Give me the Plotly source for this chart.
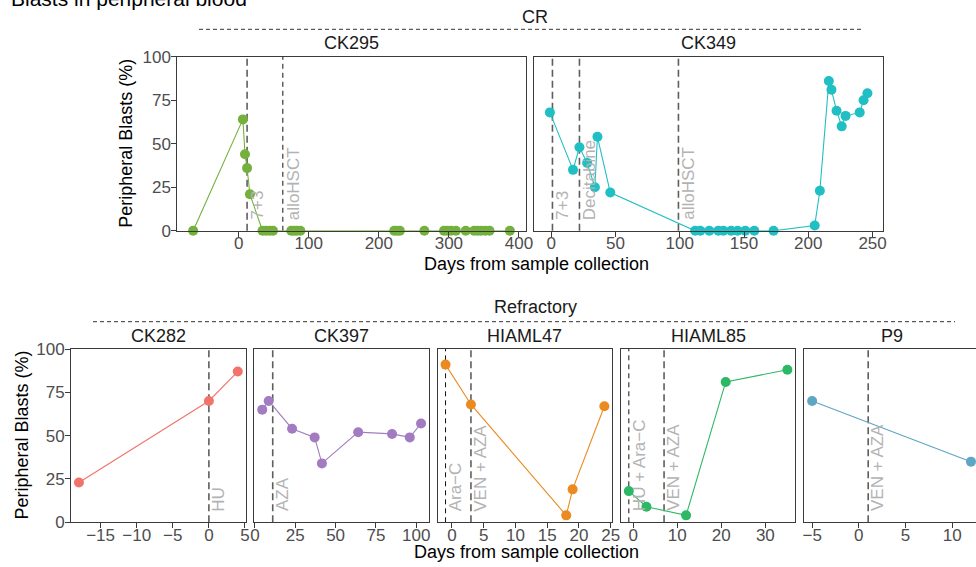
import plotly.graph_objects as go

W, H = 976, 567

# ---------------- data ----------------
ck295_day = [-65, 6, 9, 12, 16, 34, 39, 44, 49, 75, 79, 83, 88, 222, 226, 230, 265,
             293, 298, 303, 310, 324, 336, 341, 346, 352, 358, 387]
ck295_blasts = [0, 64, 44, 36, 21, 0, 0, 0, 0, 0, 0, 0, 0, 0, 0, 0, 0,
                0, 0, 0, 0, 0, 0, 0, 0, 0, 0, 0]
ck295_event_day = [12, 63]
ck295_event_lab = ["7+3", "alloHSCT"]

ck349_day = [-1, 17, 22, 28, 34, 36, 46, 112, 116, 123, 130, 134, 140, 145, 151, 158, 173,
             205, 209, 216, 218, 222, 226, 229, 240, 243, 246]
ck349_blasts = [68, 35, 48, 39, 25, 54, 22, 0, 0, 0, 0, 0, 0, 0, 0, 0, 0,
                3, 23, 86, 81, 69, 60, 66, 68, 75, 79]
ck349_event_day = [1, 22, 99]
ck349_event_lab = ["7+3", "Decitabine", "alloHSCT"]

ck282_day = [-18, 0, 4]
ck282_blasts = [23, 70, 87]
ck282_event_day = [0]
ck282_event_lab = ["HU"]

ck397_day = [4.5, 8.5, 23, 37, 41.5, 64, 85, 96, 103]
ck397_blasts = [65, 70, 54, 49, 34, 52, 51, 49, 57]
ck397_event_day = [11]
ck397_event_lab = ["AZA"]

hiaml47_day = [-1, 3, 18, 19, 24]
hiaml47_blasts = [91, 68, 4, 19, 67]
hiaml47_event_day = [-1, 3]
hiaml47_event_lab = ["Ara\u2212C", "VEN + AZA"]

hiaml85_day = [-1, 3, 12, 21, 35]
hiaml85_blasts = [18, 9, 4, 81, 88]
hiaml85_event_day = [-1, 7]
hiaml85_event_lab = ["HU + Ara\u2212C", "VEN + AZA"]

p9_day = [-5, 12]
p9_blasts = [70, 35]
p9_event_day = [1]
p9_event_lab = ["VEN + AZA"]

y_ticks = [0, 25, 50, 75, 100]
ck295_ticks = [0, 100, 200, 300, 400]
ck349_ticks = [0, 50, 100, 150, 200, 250]
ck282_ticks = [-15, -10, -5, 0, 5]
ck397_ticks = [0, 25, 50, 75, 100]
hiaml47_ticks = [0, 5, 10, 15, 20, 25]
hiaml85_ticks = [0, 10, 20, 30]
p9_ticks = [-5, 0, 5, 10]

# ---------------- layout / style ----------------
panels = [
    dict(name="CK295", d=ck295_day, b=ck295_blasts, ev=ck295_event_day, lab=ck295_event_lab,
         ticks=ck295_ticks, color="#74B03C", px=(177.3, 525.7), row=0),
    dict(name="CK349", d=ck349_day, b=ck349_blasts, ev=ck349_event_day, lab=ck349_event_lab,
         ticks=ck349_ticks, color="#1FBFC3", px=(534.0, 883.3), row=0),
    dict(name="CK282", d=ck282_day, b=ck282_blasts, ev=ck282_event_day, lab=ck282_event_lab,
         ticks=ck282_ticks, color="#F2736B", px=(71.0, 245.7), row=1),
    dict(name="CK397", d=ck397_day, b=ck397_blasts, ev=ck397_event_day, lab=ck397_event_lab,
         ticks=ck397_ticks, color="#A27BC0", px=(254.3, 429.0), row=1),
    dict(name="HIAML47", d=hiaml47_day, b=hiaml47_blasts, ev=hiaml47_event_day, lab=hiaml47_event_lab,
         ticks=hiaml47_ticks, color="#EC8A1F", px=(437.6, 612.3), row=1),
    dict(name="HIAML85", d=hiaml85_day, b=hiaml85_blasts, ev=hiaml85_event_day, lab=hiaml85_event_lab,
         ticks=hiaml85_ticks, color="#2DB866", px=(620.9, 795.3), row=1),
    dict(name="P9", d=p9_day, b=p9_blasts, ev=p9_event_day, lab=p9_event_lab,
         ticks=p9_ticks, color="#5FA5C4", px=(804.2, 978.9), row=1),
]
thin_events = {("CK295", 1), ("HIAML47", 0), ("HIAML85", 0)}

rows_px = [(56.7, 230.8), (349.0, 522.3)]

FONT = "Liberation Sans, Arial, sans-serif"
fig = go.Figure()
layout = dict(
    width=W, height=H, margin=dict(l=0, r=0, t=0, b=0, pad=0, autoexpand=False),
    paper_bgcolor="white", plot_bgcolor="white", showlegend=False,
    font=dict(family=FONT, size=17, color="#000000"),
)
shapes = []
annotations = []

first_in_row = {0: "CK295", 1: "CK282"}

for i, p in enumerate(panels):
    k = i + 1
    xa = "xaxis" if k == 1 else f"xaxis{k}"
    ya = "yaxis" if k == 1 else f"yaxis{k}"
    xr = "x" if k == 1 else f"x{k}"
    yr = "y" if k == 1 else f"y{k}"

    lo, hi = min(p["d"]), max(p["d"])
    span = hi - lo
    rlo, rhi = lo - 0.05 * span, hi + 0.05 * span
    x0, x1 = p["px"]
    full_x1 = x1
    if x1 > W:  # panel runs past the page edge: clip it
        frac = (W - x0) / (x1 - x0)
        rhi = rlo + (rhi - rlo) * frac
        x1 = W
    top, bot = rows_px[p["row"]]

    layout[xa] = dict(
        domain=[x0 / W, x1 / W], anchor=yr, range=[rlo, rhi], automargin=False,
        tickvals=p["ticks"], showgrid=False, zeroline=False,
        showline=True, mirror=True, linecolor="#3a3a3a", linewidth=1,
        ticks="outside", ticklen=5, tickcolor="#3a3a3a", ticklabelstandoff=-8,
        tickfont=dict(size=17, color="#4d4d4d", family=FONT),
    )
    is_first = p["name"] == first_in_row[p["row"]]
    layout[ya] = dict(
        domain=[1 - bot / H, 1 - top / H], anchor=xr, range=[0, 100], automargin=False,
        tickvals=y_ticks, showgrid=False, zeroline=False,
        showline=True, mirror=(full_x1 <= W), linecolor="#3a3a3a", linewidth=1,
        ticks="outside" if is_first else "", ticklen=5, tickcolor="#3a3a3a",
        ticklabelstandoff=-3, showticklabels=is_first,
        tickfont=dict(size=17, color="#4d4d4d", family=FONT),
    )

    # event lines and labels
    for j, (ev, lab) in enumerate(zip(p["ev"], p["lab"])):
        thin = (p["name"], j) in thin_events
        shapes.append(dict(
            type="line", xref=xr, yref=f"{yr} domain", x0=ev, x1=ev, y0=0, y1=1,
            line=dict(color="#111111" if thin else "#5e5e5e",
                      width=1 if thin else 1.6,
                      dash="5px,4px" if thin else "7px,4px"),
            layer="below",
        ))
        annotations.append(dict(
            x=ev, y=0, xref=xr, yref=yr, text=lab, showarrow=False,
            textangle=-90, xanchor="left", yanchor="bottom",
            xshift=-0.5, yshift=10, borderpad=0,
            font=dict(size=17, color="#b3b3b3", family=FONT),
        ))

    fig.add_trace(go.Scatter(
        x=p["d"], y=p["b"], xaxis=xr, yaxis=yr, mode="lines+markers",
        line=dict(color=p["color"], width=1.1),
        marker=dict(color=p["color"], size=10),
        cliponaxis=False, hoverinfo="skip",
    ))

    # strip label, centred on the full (unclipped) panel width
    annotations.append(dict(
        x=(x0 + full_x1) / 2 / W, y=1 - (top - 13.5) / H, xref="paper", yref="paper",
        text=p["name"], showarrow=False, xanchor="center", yanchor="middle",
        font=dict(size=18, color="#1a1a1a", family=FONT),
    ))

# group labels with dashed separators
groups = [("CR", 535, 16.7, 29.3, 199, 862), ("Refractory", 535, 307.0, 321.7, 93, 955)]
for text, cx, cy, ly, lx0, lx1 in groups:
    annotations.append(dict(
        x=cx / W, y=1 - cy / H, xref="paper", yref="paper", text=text,
        showarrow=False, xanchor="center", yanchor="middle",
        font=dict(size=18, color="#1a1a1a", family=FONT),
    ))
    shapes.append(dict(
        type="line", xref="paper", yref="paper", x0=lx0 / W, x1=lx1 / W,
        y0=1 - ly / H, y1=1 - ly / H,
        line=dict(color="#333333", width=1, dash="4px,3px"),
    ))

# axis titles
for cx, cy in [(126, 143.7), (22, 435.6)]:
    annotations.append(dict(
        x=cx / W, y=1 - cy / H, xref="paper", yref="paper",
        text="Peripheral Blasts (%)", textangle=-90, showarrow=False,
        xanchor="center", yanchor="middle",
        font=dict(size=18, color="#000000", family=FONT),
    ))
for cx, cy in [(536, 264), (526, 552)]:
    annotations.append(dict(
        x=cx / W, y=1 - cy / H, xref="paper", yref="paper",
        text="Days from sample collection", showarrow=False,
        xanchor="center", yanchor="middle",
        font=dict(size=18, color="#000000", family=FONT),
    ))

# main title, partly above the top edge as in the reference
annotations.append(dict(
    x=9 / W, y=1 - 12 / H, xref="paper", yref="paper",
    text="Blasts in peripheral blood", showarrow=False,
    xanchor="left", yanchor="bottom",
    font=dict(size=21, color="#000000", family=FONT),
))

layout["shapes"] = shapes
layout["annotations"] = annotations
fig.update_layout(**layout)
fig.write_html(
    "out.html",
    config={"displayModeBar": False, "staticPlot": True},
    post_script="document.body.style.margin='0';document.body.style.overflow='hidden';",
)
